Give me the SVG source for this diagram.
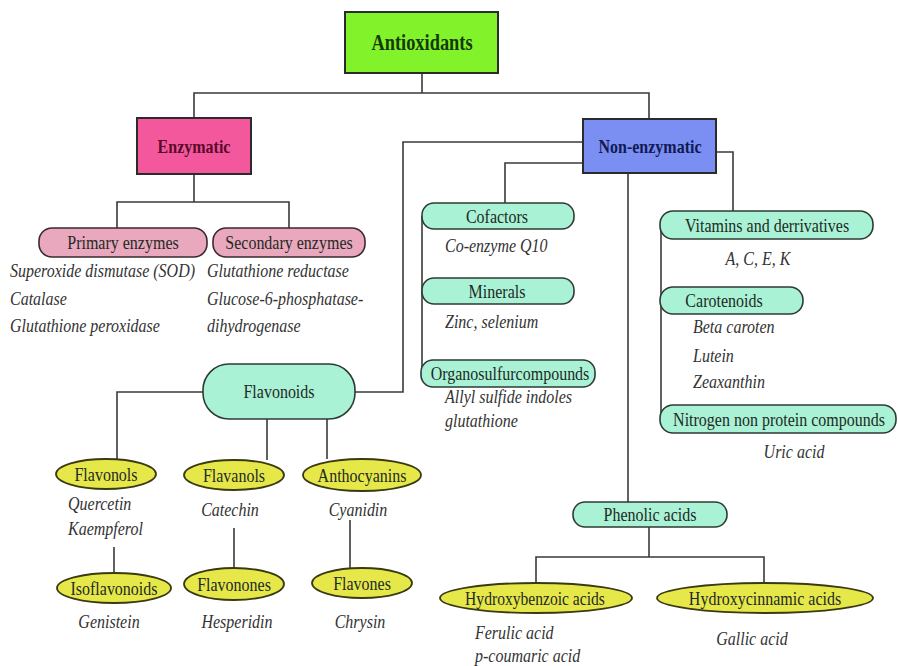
<svg xmlns="http://www.w3.org/2000/svg" width="898" height="666" viewBox="0 0 898 666" font-family="Liberation Serif, Times New Roman, serif">
<style>
.bg{fill:#ffffff}
.conn{fill:none;stroke:#3a3a3a;stroke-width:1.6}
.box{stroke:#2b2b2b;stroke-width:2}
.pink{fill:#e9a8bd;stroke:#3a2a30;stroke-width:1.6}
.mint{fill:#aaf2d6;stroke:#2e3a34;stroke-width:1.6}
.yel{fill:#e6e84a;stroke:#3a3a12;stroke-width:1.8}
.bold{font-weight:bold;text-anchor:middle}
.lbl{font-size:19.5px;fill:#1e2a24;text-anchor:middle}
.it{font-size:19.5px;font-style:italic;fill:#333333}
.mid{text-anchor:middle}
</style>
<rect class="bg" x="0" y="0" width="898" height="666"/>

<g id="connectors">
  <polyline class="conn" points="422,73 422,93"/>
  <polyline class="conn" points="194,118 194,93 649,93 649,119"/>
  <polyline class="conn" points="194,174 194,202"/>
  <polyline class="conn" points="117,228 117,202 289,202 289,228"/>
  <polyline class="conn" points="583,142 403,142 403,392 355,392"/>
  <polyline class="conn" points="583,163 505,163 505,203"/>
  <polyline class="conn" points="716,152 733,152 733,212"/>
  <polyline class="conn" points="628,173 628,502"/>
  <polyline class="conn" points="422,216 422,374"/>
  <polyline class="conn" points="661,226 661,419"/>
  <polyline class="conn" points="203,392 117,392 117,459"/>
  <polyline class="conn" points="267,419 267,460"/>
  <polyline class="conn" points="327,419 327,459"/>
  <polyline class="conn" points="114,547 114,573"/>
  <polyline class="conn" points="234,528 234,568"/>
  <polyline class="conn" points="350,520 350,568"/>
  <polyline class="conn" points="649,526 649,557"/>
  <polyline class="conn" points="536,583 536,557 764,557 764,583"/>
</g>

<g id="antioxidants">
  <rect class="box" x="345" y="12" width="153" height="61" fill="#82f22a"/>
  <text class="bold" transform="translate(422 50) scale(0.8 1)" font-size="23" fill="#143a08">Antioxidants</text>
</g>

<g id="enzymatic">
  <rect class="box" x="137" y="118" width="114" height="56" fill="#f4589c"/>
  <text class="bold" transform="translate(194 152.5) scale(0.82 1)" font-size="19.5" fill="#5a0a2a">Enzymatic</text>
</g>

<g id="non-enzymatic">
  <rect class="box" x="583" y="119" width="133" height="54" fill="#7b8ef2"/>
  <text class="bold" transform="translate(650 152.5) scale(0.82 1)" font-size="19.5" fill="#101a55">Non-enzymatic</text>
</g>

<g id="primary-enzymes">
  <rect class="pink" x="39" y="228" width="168" height="29" rx="13"/>
  <text class="lbl" transform="translate(123 249) scale(0.82 1)">Primary enzymes</text>
  <text class="it" transform="translate(10 277) scale(0.82 1)">Superoxide dismutase (SOD)</text>
  <text class="it" transform="translate(10 305) scale(0.82 1)">Catalase</text>
  <text class="it" transform="translate(10 332) scale(0.82 1)">Glutathione peroxidase</text>
</g>

<g id="secondary-enzymes">
  <rect class="pink" x="213" y="228" width="152" height="29" rx="13"/>
  <text class="lbl" transform="translate(289 249) scale(0.82 1)">Secondary enzymes</text>
  <text class="it" transform="translate(207 277) scale(0.82 1)">Glutathione reductase</text>
  <text class="it" transform="translate(207 305) scale(0.82 1)">Glucose-6-phosphatase-</text>
  <text class="it" transform="translate(207 332) scale(0.82 1)">dihydrogenase</text>
</g>

<g id="cofactors">
  <rect class="mint" x="422" y="203" width="152" height="26" rx="12"/>
  <text class="lbl" transform="translate(497 222.5) scale(0.82 1)">Cofactors</text>
  <text class="it" transform="translate(445 252) scale(0.82 1)">Co-enzyme Q10</text>
</g>

<g id="minerals">
  <rect class="mint" x="422" y="278" width="152" height="26" rx="12"/>
  <text class="lbl" transform="translate(497 297.5) scale(0.82 1)">Minerals</text>
  <text class="it" transform="translate(445 328) scale(0.82 1)">Zinc, selenium</text>
</g>

<g id="organosulfurcompounds">
  <rect class="mint" x="421" y="360" width="174" height="27" rx="12"/>
  <text class="lbl" transform="translate(510 380) scale(0.82 1)">Organosulfurcompounds</text>
  <text class="it" transform="translate(445 403) scale(0.82 1)">Allyl sulfide indoles</text>
  <text class="it" transform="translate(445 427) scale(0.82 1)">glutathione</text>
</g>

<g id="vitamins">
  <rect class="mint" x="660" y="211" width="213" height="28" rx="13"/>
  <text class="lbl" transform="translate(767 231.5) scale(0.82 1)">Vitamins and derrivatives</text>
  <text class="it mid" transform="translate(758 265) scale(0.82 1)">A, C, E, K</text>
</g>

<g id="carotenoids">
  <rect class="mint" x="660" y="287" width="143" height="27" rx="13"/>
  <text class="lbl" transform="translate(724 307) scale(0.82 1)">Carotenoids</text>
  <text class="it" transform="translate(693 333) scale(0.82 1)">Beta caroten</text>
  <text class="it" transform="translate(693 362) scale(0.82 1)">Lutein</text>
  <text class="it" transform="translate(693 388) scale(0.82 1)">Zeaxanthin</text>
</g>

<g id="nitrogen">
  <rect class="mint" x="660" y="405" width="236" height="28" rx="13"/>
  <text class="lbl" transform="translate(779 425.5) scale(0.82 1)">Nitrogen non protein compounds</text>
  <text class="it mid" transform="translate(794 458) scale(0.82 1)">Uric acid</text>
</g>

<g id="flavonoids">
  <rect class="mint" x="203" y="364" width="152" height="55" rx="26"/>
  <text class="lbl" transform="translate(279 398) scale(0.82 1)">Flavonoids</text>
</g>

<g id="flavonols">
  <ellipse class="yel" cx="106" cy="474" rx="50" ry="15"/>
  <text class="lbl" transform="translate(106 480.5) scale(0.82 1)">Flavonols</text>
  <text class="it" transform="translate(68 510) scale(0.82 1)">Quercetin</text>
  <text class="it" transform="translate(68 535) scale(0.82 1)">Kaempferol</text>
</g>

<g id="flavanols">
  <ellipse class="yel" cx="234" cy="475" rx="50" ry="15"/>
  <text class="lbl" transform="translate(234 481.5) scale(0.82 1)">Flavanols</text>
  <text class="it mid" transform="translate(230 516) scale(0.82 1)">Catechin</text>
</g>

<g id="anthocyanins">
  <ellipse class="yel" cx="362" cy="475" rx="59" ry="16"/>
  <text class="lbl" transform="translate(362 481.5) scale(0.82 1)">Anthocyanins</text>
  <text class="it mid" transform="translate(358 516) scale(0.82 1)">Cyanidin</text>
</g>

<g id="isoflavonoids">
  <ellipse class="yel" cx="114" cy="588" rx="57" ry="15"/>
  <text class="lbl" transform="translate(114 594.5) scale(0.82 1)">Isoflavonoids</text>
  <text class="it mid" transform="translate(109 628) scale(0.82 1)">Genistein</text>
</g>

<g id="flavonones">
  <ellipse class="yel" cx="234" cy="584" rx="50" ry="16"/>
  <text class="lbl" transform="translate(234 590.5) scale(0.82 1)">Flavonones</text>
  <text class="it mid" transform="translate(237 628) scale(0.82 1)">Hesperidin</text>
</g>

<g id="flavones">
  <ellipse class="yel" cx="362" cy="583" rx="50" ry="15"/>
  <text class="lbl" transform="translate(362 589.5) scale(0.82 1)">Flavones</text>
  <text class="it mid" transform="translate(360 628) scale(0.82 1)">Chrysin</text>
</g>

<g id="phenolic-acids">
  <rect class="mint" x="573" y="502" width="154" height="25" rx="12"/>
  <text class="lbl" transform="translate(650 521) scale(0.82 1)">Phenolic acids</text>
</g>

<g id="hydroxybenzoic">
  <ellipse class="yel" cx="536" cy="598" rx="96" ry="15"/>
  <text class="lbl" transform="translate(535 604.5) scale(0.8 1)">Hydroxybenzoic acids</text>
  <text class="it" transform="translate(475 639) scale(0.82 1)">Ferulic acid</text>
  <text class="it" transform="translate(475 662) scale(0.82 1)">p-coumaric acid</text>
</g>

<g id="hydroxycinnamic">
  <ellipse class="yel" cx="765" cy="598" rx="108" ry="15"/>
  <text class="lbl" transform="translate(765 604.5) scale(0.82 1)">Hydroxycinnamic acids</text>
  <text class="it mid" transform="translate(752 645) scale(0.82 1)">Gallic acid</text>
</g>
</svg>
